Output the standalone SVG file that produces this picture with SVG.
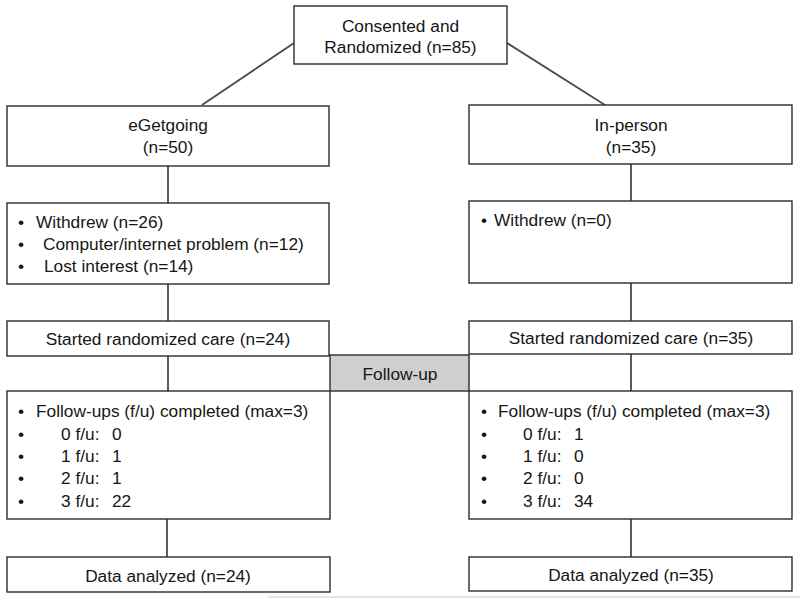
<svg xmlns="http://www.w3.org/2000/svg" width="800" height="598" viewBox="0 0 800 598">
<style>
text{font-family:"Liberation Sans",Arial,sans-serif;font-size:17.3px;fill:#161616}
.box{fill:#fff;stroke:#2b2b2b;stroke-width:1.4}
.band{fill:#cfcfcf;stroke:#2b2b2b;stroke-width:1.4}
.c{text-anchor:middle}
.conn line{stroke:#4a4a4a;stroke-width:1.8}
</style>
<rect width="800" height="598" fill="#fff"/>
<g id="connectors" class="conn">
<line x1="294" y1="43" x2="202" y2="105"/>
<line x1="507" y1="43" x2="605" y2="105"/>
<line x1="168" y1="166" x2="168" y2="203"/>
<line x1="168" y1="284" x2="168" y2="321"/>
<line x1="168" y1="356" x2="168" y2="391"/>
<line x1="167" y1="519" x2="167" y2="557"/>
<line x1="631" y1="164" x2="631" y2="201"/>
<line x1="631" y1="283" x2="631" y2="321"/>
<line x1="631" y1="354" x2="631" y2="391"/>
<line x1="631" y1="519" x2="631" y2="557"/>
</g>
<g id="consented">
<rect class="box" x="294" y="6" width="213" height="58"/>
<text class="c" x="400.5" y="32">Consented and</text>
<text class="c" x="400.5" y="53">Randomized (n=85)</text>
</g>
<g id="egetgoing">
<rect class="box" x="7" y="106" width="322" height="60"/>
<text class="c" x="168" y="131">eGetgoing</text>
<text class="c" x="168" y="153">(n=50)</text>
</g>
<g id="inperson">
<rect class="box" x="469" y="105" width="323" height="59"/>
<text class="c" x="631" y="131">In-person</text>
<text class="c" x="631" y="153">(n=35)</text>
</g>
<g id="withdrew-left">
<rect class="box" x="7" y="203" width="322" height="81"/>
<text x="18" y="228">•</text><text x="36" y="228">Withdrew (n=26)</text>
<text x="18" y="250">•</text><text x="43" y="250">Computer/internet problem (n=12)</text>
<text x="18" y="272">•</text><text x="44" y="272">Lost interest (n=14)</text>
</g>
<g id="withdrew-right">
<rect class="box" x="469" y="201" width="323" height="82"/>
<text x="481" y="226">•</text><text x="494" y="226">Withdrew (n=0)</text>
</g>
<g id="started-left">
<rect class="box" x="7" y="321" width="322" height="35"/>
<text class="c" x="168" y="345">Started randomized care (n=24)</text>
</g>
<g id="started-right">
<rect class="box" x="469" y="321" width="323" height="33"/>
<text class="c" x="631" y="344">Started randomized care (n=35)</text>
</g>
<g id="followup-band">
<rect class="band" x="330" y="355" width="139" height="36"/>
<text class="c" x="400" y="380">Follow-up</text>
</g>
<g id="followups-left">
<rect class="box" x="7" y="391" width="323" height="128"/>
<text x="18" y="417">•</text><text x="36" y="417">Follow-ups (f/u) completed (max=3)</text>
<text x="18" y="440">•</text><text x="61" y="440">0 f/u:</text><text x="112" y="440">0</text>
<text x="18" y="462">•</text><text x="61" y="462">1 f/u:</text><text x="112" y="462">1</text>
<text x="18" y="484">•</text><text x="61" y="484">2 f/u:</text><text x="112" y="484">1</text>
<text x="18" y="507">•</text><text x="61" y="507">3 f/u:</text><text x="112" y="507">22</text>
</g>
<g id="followups-right">
<rect class="box" x="469" y="391" width="323" height="128"/>
<text x="481" y="417">•</text><text x="498" y="417">Follow-ups (f/u) completed (max=3)</text>
<text x="481" y="440">•</text><text x="523" y="440">0 f/u:</text><text x="574" y="440">1</text>
<text x="481" y="462">•</text><text x="523" y="462">1 f/u:</text><text x="574" y="462">0</text>
<text x="481" y="484">•</text><text x="523" y="484">2 f/u:</text><text x="574" y="484">0</text>
<text x="481" y="507">•</text><text x="523" y="507">3 f/u:</text><text x="574" y="507">34</text>
</g>
<g id="data-left">
<rect class="box" x="7" y="557" width="323" height="35"/>
<text class="c" x="168" y="582">Data analyzed (n=24)</text>
</g>
<g id="data-right">
<rect class="box" x="469" y="557" width="323" height="34"/>
<text class="c" x="631" y="581">Data analyzed (n=35)</text>
</g>
<line x1="268" y1="597" x2="800" y2="597" stroke="#c8c8c8" stroke-width="1.2"/>
</svg>
